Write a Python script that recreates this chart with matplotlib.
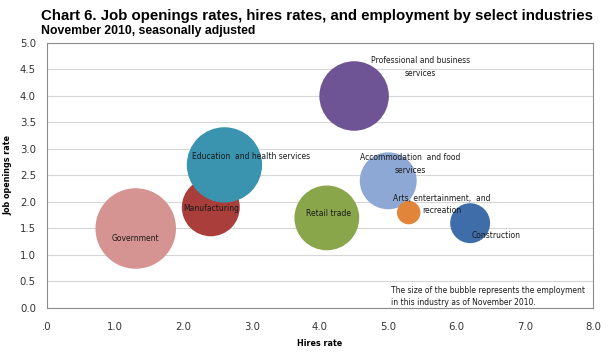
import matplotlib.pyplot as plt

# hires rate, job openings rate, employment (thousands) by industry, Nov 2010
industries = ['Government', 'Manufacturing', 'Education  and health services', 'Retail trade',
              'Professional and business\nservices', 'Accommodation  and food\nservices',
              'Arts, entertainment,  and\nrecreation', 'Construction']
hires_rate = [1.3, 2.4, 2.6, 4.1, 4.5, 5.0, 5.3, 6.2]
openings_rate = [1.5, 1.9, 2.7, 1.7, 4.0, 2.4, 1.8, 1.6]
employment = [22400, 11600, 19600, 14500, 16700, 11200, 1900, 5500]

colors = ['#D59492', '#A93E3B', '#3A93AF', '#8AA64A', '#6E5494', '#8EA8D5', '#E1853A', '#3E6DAA']
# label offsets from bubble centre, points
offsets = [(0, -7), (0, -1), (19, 6), (1, 3), (48, 21), (16, 12), (24, 6), (19, -9)]

fig = plt.figure(figsize=(6.08, 3.53), dpi=100)
fig.patch.set_facecolor('white')
ax = fig.add_axes([0.0773, 0.1275, 0.898, 0.7507])

ax.set_xlim(0, 8)
ax.set_ylim(0, 5)
ax.set_yticks([i * 0.5 for i in range(11)])
ax.set_xticks(range(9))
ax.set_xticklabels(['.0'] + [f'{i:.1f}' for i in range(1, 9)])
ax.set_yticklabels([f'{i * 0.5:.1f}' for i in range(11)])
ax.tick_params(length=0, labelsize=7.3, colors='#333333', pad=8)
ax.tick_params(axis='x', pad=10)
ax.grid(axis='y', color='#D6D6D6', linewidth=0.8)
ax.set_axisbelow(True)
for s in ax.spines.values():
    s.set_color('#8C8C8C')
    s.set_linewidth(0.8)

ax.scatter(hires_rate, openings_rate, s=[e * 0.15 for e in employment], c=colors,
           linewidths=0, zorder=3)

for name, x, y, off in zip(industries, hires_rate, openings_rate, offsets):
    ax.annotate(name, (x, y), xytext=off, textcoords='offset points', ha='center', va='center',
                fontsize=5.5, color='#1A1A1A', linespacing=1.5, zorder=4)

ax.set_xlabel('Hires rate', fontsize=5.8, fontweight='bold', labelpad=5)
ax.set_ylabel('Job openings rate', fontsize=5.8, fontweight='bold', labelpad=5)

ax.text(0.6295, 0.082, 'The size of the bubble represents the employment\nin this industry as of November 2010.',
        transform=ax.transAxes, fontsize=5.5, color='#1A1A1A', va='top', ha='left', linespacing=1.45)

fig.text(0.067, 0.975, 'Chart 6. Job openings rates, hires rates, and employment by select industries',
         fontsize=10.8, fontweight='bold', family='Liberation Sans', va='top', ha='left')
fig.text(0.067, 0.929, 'November 2010, seasonally adjusted',
         fontsize=8.8, fontweight='bold', family='Liberation Sans', va='top', ha='left')

fig.savefig('out.png', dpi=100)
